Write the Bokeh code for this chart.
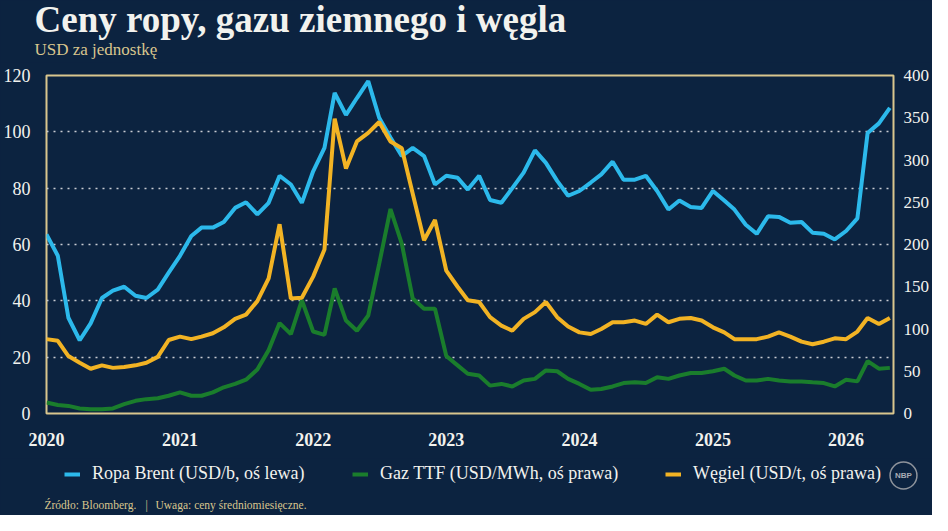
import pandas as pd
from bokeh.plotting import figure
from bokeh.layouts import column
from bokeh.models import (Range1d, LinearAxis, FixedTicker, DatetimeTickFormatter,
                          Legend, LegendItem, Label)
from bokeh.embed import file_html
from bokeh.resources import INLINE

# monthly averages, Jan 2020 - May 2026
months = pd.date_range("2020-01-01", periods=77, freq="MS")

brent = [63.6, 56, 34, 26, 32, 41, 43.6, 45, 41.8, 41, 44, 50,
         56, 63, 66, 66, 68, 73, 75, 70.7, 74.8, 84.4, 81.3, 74.8,
         86, 94.3, 113.8, 106, 112, 118, 105, 98, 91.4, 94.3, 91.4, 81.3,
         84.4, 83.7, 79.5, 84.4, 75.8, 74.8, 80, 85.5, 93.4, 89, 82.6, 77.3,
         79, 82, 84.9, 89.4, 83, 83, 84.4, 79, 72.4, 75.6, 73.3, 73,
         79, 75.6, 72.4, 67, 63.8, 70, 69.8, 67.7, 68, 64.2, 63.8, 61.8,
         64.8, 69.3, 99.6, 103, 108.5]

gas = [13, 10, 9, 6, 5, 5, 6, 11, 15, 17, 18, 21,
       25, 21, 21, 25, 31, 35, 40, 52, 75, 107, 94, 134,
       97, 93, 148, 110, 98, 116, 177, 242, 201, 136, 124, 124,
       68, 57, 47, 45, 33, 35, 32, 39, 41, 51, 50, 41,
       35, 28, 29, 32, 36, 37, 36, 43, 41, 45, 48, 48,
       50, 53, 45, 39, 39, 41, 39, 38, 38, 37, 36, 32,
       40, 38, 62, 53, 54]

coal = [88, 86, 68, 60, 53, 57, 54, 55, 57, 60, 67, 87,
        91, 88, 91, 95, 102, 112, 117, 133, 160, 224, 136, 137,
        162, 194, 349, 290, 322, 332, 345, 322, 314, 260, 205, 229,
        169, 150, 134, 132, 114, 104, 98, 112, 120, 132, 114, 103,
        96, 94, 100, 108, 108, 110, 106, 117, 108, 112, 113, 110,
        102, 96, 88, 88, 88, 91, 96, 91, 85, 82, 85, 89,
        88, 97, 113, 106, 113]

years = list(range(2020, 2027))
left_ticks = [0, 20, 40, 60, 80, 100, 120]
right_ticks = [0, 50, 100, 150, 200, 250, 300, 350, 400]
grid_ticks = [20, 40, 60, 80, 100]

labels = ["Ropa Brent (USD/b, oś lewa)", "Gaz TTF (USD/MWh, oś prawa)",
          "Węgiel (USD/t, oś prawa)"]

BG = "#0c2340"
GOLD = "#d9c68e"
BLUE = "#2cb9eb"
GREEN = "#1a7d2c"
YELLOW = "#f2b324"
WHITE = "#f2f2ee"
FONT = "Liberation Serif"
W = 932
NAN = float("nan")


def strip(h):
    # a bare band of the page: frame covers the whole canvas, no axes
    f = figure(width=W, height=h, x_range=(0, W), y_range=(0, h), title=None,
               x_axis_type=None, y_axis_type=None, toolbar_location=None,
               tools="", output_backend="svg", min_border=0, frame_align=False,
               background_fill_color=BG, border_fill_color=BG)
    f.outline_line_color = None
    f.grid.grid_line_color = None
    return f


def note(f, text, x, y, size, color, **kw):
    f.add_layout(Label(x=x, y=y, text=text, text_font=FONT,
                       text_font_size=size, text_color=color, **kw))


# ===== HEADER =====
head = strip(62)
note(head, "Ceny ropy, gazu ziemnego i węgla", 34, 43, "37px", WHITE,
     text_font_style="bold", text_baseline="alphabetic")
note(head, "USD za jednostkę", 34, 13, "17px", GOLD, text_baseline="middle")

# ===== MAIN CHART =====
p = figure(width=W, height=396, x_axis_type="datetime", title=None,
           x_range=Range1d(months[0], pd.Timestamp("2026-05-11")),
           y_range=Range1d(0, 120), toolbar_location=None, tools="",
           output_backend="svg", frame_align=False,
           min_border_left=43, min_border_right=38,
           min_border_top=13, min_border_bottom=45,
           background_fill_color=BG, border_fill_color=BG)
p.extra_y_ranges = {"right": Range1d(0, 400)}

p.outline_line_color = GOLD
p.outline_line_width = 2
p.xgrid.grid_line_color = None
p.ygrid.ticker = FixedTicker(ticks=grid_ticks)
p.ygrid.grid_line_color = "#c9ccd2"
p.ygrid.grid_line_dash = "2 5"
p.ygrid.grid_line_width = 1.5

right = LinearAxis(y_range_name="right")
p.add_layout(right, "right")

p.xaxis.ticker = FixedTicker(ticks=[pd.Timestamp(f"{y}-01-01").value / 1e6 for y in years])
fmt = "%Y"
p.xaxis.formatter = DatetimeTickFormatter(years=fmt, months=fmt, days=fmt, hours=fmt)
p.yaxis[0].ticker = FixedTicker(ticks=left_ticks)
right.ticker = FixedTicker(ticks=right_ticks)

for ax in (p.xaxis[0], p.yaxis[0], right):
    ax.axis_line_color = None
    ax.major_tick_line_color = None
    ax.minor_tick_line_color = None
    ax.major_tick_out = 0
    ax.major_tick_in = 0
    ax.minor_tick_out = 0
    ax.major_label_text_font = FONT
    ax.major_label_text_font_size = "18px"
    ax.major_label_text_color = WHITE
p.xaxis.major_label_text_font_style = "bold"
p.xaxis.major_label_standoff = 19
p.yaxis[0].major_label_standoff = 16
right.major_label_standoff = 10
right.major_label_text_font_size = "17px"

p.line(months, brent, color=BLUE, line_width=4)
p.line(months, gas, color=GREEN, line_width=4, y_range_name="right")
p.line(months, coal, color=YELLOW, line_width=4, y_range_name="right")

# ===== FOOTER: legend, source, logo =====
foot = strip(57)
for lab, col, xpos in zip(labels, [BLUE, GREEN, YELLOW], [64, 352, 665]):
    # legend swatch only, nothing drawn in the strip
    proxy = foot.line(x=[NAN], y=[NAN], color=col, line_width=4)
    leg = Legend(items=[LegendItem(label=lab, renderers=[proxy])], location=(xpos, 31),
                 orientation="horizontal", background_fill_alpha=0,
                 border_line_color=None, padding=0, margin=0,
                 glyph_width=16, glyph_height=20, label_height=20,
                 label_standoff=12, label_text_font=FONT,
                 label_text_font_size="18px", label_text_color=WHITE)
    foot.add_layout(leg)

note(foot, "Źródło: Bloomberg.", 44, 11, "11.5px", GOLD, text_baseline="middle")
note(foot, "|", 145, 11, "11.5px", GOLD, text_baseline="middle")
note(foot, "Uwaga: ceny średniomiesięczne.", 155, 11, "11.5px", GOLD, text_baseline="middle")

foot.add_layout(Label(x=903, y=40, text="NBP",
                      text_font="Liberation Sans", text_font_style="bold",
                      text_font_size="8px", text_color="#a9adb5",
                      text_align="center", text_baseline="middle",
                      border_line_color="#8f949c", border_line_width=1.5,
                      border_radius=14, padding=(5, 9)))

layout = column(head, p, foot, spacing=0, styles={"background-color": BG})
open("out.html", "w").write(file_html(layout, INLINE))
